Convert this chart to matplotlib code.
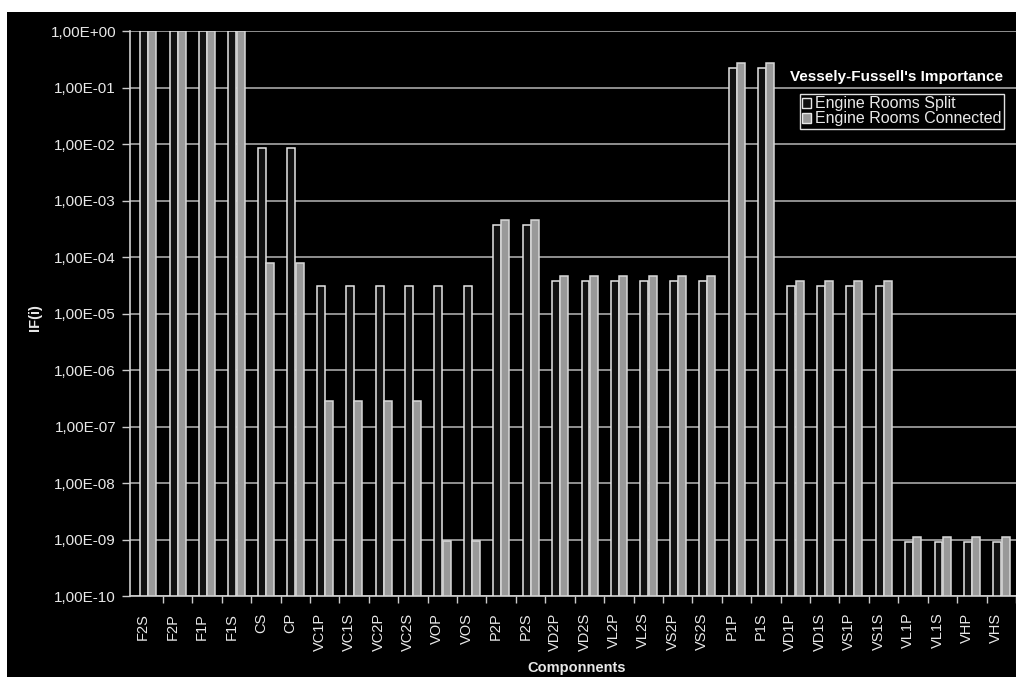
import numpy as np
import matplotlib
matplotlib.use("Agg")
import matplotlib.pyplot as plt
import matplotlib.transforms as mtransforms
from matplotlib.patches import Patch, Rectangle

plt.rcParams['font.family'] = ['Liberation Sans', 'DejaVu Sans']

# data (log scale)
components = ['F2S', 'F2P', 'F1P', 'F1S', 'CS', 'CP', 'VC1P', 'VC1S', 'VC2P', 'VC2S',
              'VOP', 'VOS', 'P2P', 'P2S', 'VD2P', 'VD2S', 'VL2P', 'VL2S', 'VS2P', 'VS2S',
              'P1P', 'P1S', 'VD1P', 'VD1S', 'VS1P', 'VS1S', 'VL1P', 'VL1S', 'VHP', 'VHS']
split = [1.0, 1.0, 1.0, 1.0, 8.5e-3, 8.5e-3, 3.1e-5, 3.1e-5, 3.1e-5, 3.1e-5,
         3.1e-5, 3.1e-5, 3.7e-4, 3.7e-4, 3.8e-5, 3.8e-5, 3.8e-5, 3.8e-5, 3.8e-5, 3.8e-5,
         0.225, 0.225, 3.1e-5, 3.1e-5, 3.1e-5, 3.1e-5, 9.1e-10, 9.1e-10, 9.1e-10, 9.1e-10]
connected = [1.0, 1.0, 1.0, 1.0, 7.8e-5, 7.8e-5, 2.8e-7, 2.8e-7, 2.8e-7, 2.8e-7,
             9.3e-10, 9.3e-10, 4.6e-4, 4.6e-4, 4.7e-5, 4.7e-5, 4.7e-5, 4.7e-5, 4.7e-5, 4.7e-5,
             0.275, 0.275, 3.8e-5, 3.8e-5, 3.8e-5, 3.8e-5, 1.13e-9, 1.13e-9, 1.13e-9, 1.13e-9]
ytick_vals = [10.0 ** e for e in range(-10, 1)]
ytick_labels = ['1,00E%+03d' % e for e in range(-10, 1)]

W, H = 1016, 677
fig = plt.figure(figsize=(W / 100, H / 100), dpi=100, facecolor='white')
# black panel (white strip on top and left)
fig.patches.append(Rectangle((7 / W, 0), 1 - 7 / W, 1 - 12 / H, transform=fig.transFigure,
                             facecolor='black', edgecolor='none', zorder=-10))

left, right, top, bottom = 130, 1016, 31.3, 596
ax = fig.add_axes([left / W, 1 - bottom / H, (right - left) / W, (bottom - top) / H])
ax.set_facecolor('black')

x = np.arange(len(components))
bw = 0.27
floor = 1e-10
ax.bar(x - bw / 2, np.array(split) - floor, bottom=floor, width=bw,
       color='#111111', edgecolor='#e6e6e6', linewidth=1.1, zorder=3)
ax.bar(x + bw / 2 + 0.01, np.array(connected) - floor, bottom=floor, width=bw,
       color='#999999', edgecolor='#d8d8d8', linewidth=1.1, zorder=3)

ax.set_yscale('log')
ax.set_ylim(1e-10, 1.0)
ax.set_xlim(-0.618, 29.31)
ax.set_yticks(ytick_vals)
ax.set_yticklabels(ytick_labels)
ax.yaxis.set_minor_locator(matplotlib.ticker.NullLocator())
ax.yaxis.grid(True, color='#a8a8a8', linewidth=1.2, zorder=0)
ax.set_axisbelow(True)

# category boundaries as ticks, labels at centres
ax.set_xticks(x + 0.5)
ax.set_xticklabels([])
ax.set_xticks(x, minor=True)
ax.set_xticklabels(components, minor=True, rotation=90, fontsize=10.5, color='#e8e8e8')
ax.tick_params(axis='x', which='major', length=5, color='#cccccc', width=1)
ax.tick_params(axis='x', which='minor', length=0, pad=12)
ax.tick_params(axis='y', length=6, color='#cccccc', width=1, labelsize=11,
               labelcolor='#e8e8e8', pad=4)
offset = mtransforms.ScaledTranslation(-5 / 100, 0, fig.dpi_scale_trans)
for lab in ax.xaxis.get_minorticklabels():
    lab.set_transform(lab.get_transform() + offset)

for side in ['top', 'right']:
    ax.spines[side].set_visible(False)
for side in ['left', 'bottom']:
    ax.spines[side].set_color('#d0d0d0')
    ax.spines[side].set_linewidth(1.2)

fig.text(35 / W, 1 - 318 / H, 'IF(i)', rotation=90, ha='center', va='center',
         color='#e8e8e8', fontsize=10.5, fontweight='bold')
fig.text(577 / W, 1 - 668 / H, 'Componnents', ha='center', va='center',
         color='#e8e8e8', fontsize=10.5, fontweight='bold')

fig.text(896 / W, 1 - 77 / H, "Vessely-Fussell's Importance", ha='center', va='center',
         color='white', fontsize=11, fontweight='bold')
handles = [Patch(facecolor='#111111', edgecolor='#e6e6e6', linewidth=1),
           Patch(facecolor='#999999', edgecolor='#e6e6e6', linewidth=1)]
leg = fig.legend(handles, ['Engine Rooms Split', 'Engine Rooms Connected'],
                 loc='upper right', bbox_to_anchor=(1004 / W, 1 - 94 / H),
                 frameon=True, fancybox=False, framealpha=1, facecolor='black',
                 edgecolor='#e0e0e0', fontsize=11.5, labelcolor='#e8e8e8',
                 handlelength=0.55, handleheight=0.55, handletextpad=0.25,
                 labelspacing=0.0, borderpad=0.15, borderaxespad=0)
leg.get_frame().set_linewidth(1)

fig.savefig('out.png', dpi=100, facecolor=fig.get_facecolor())
